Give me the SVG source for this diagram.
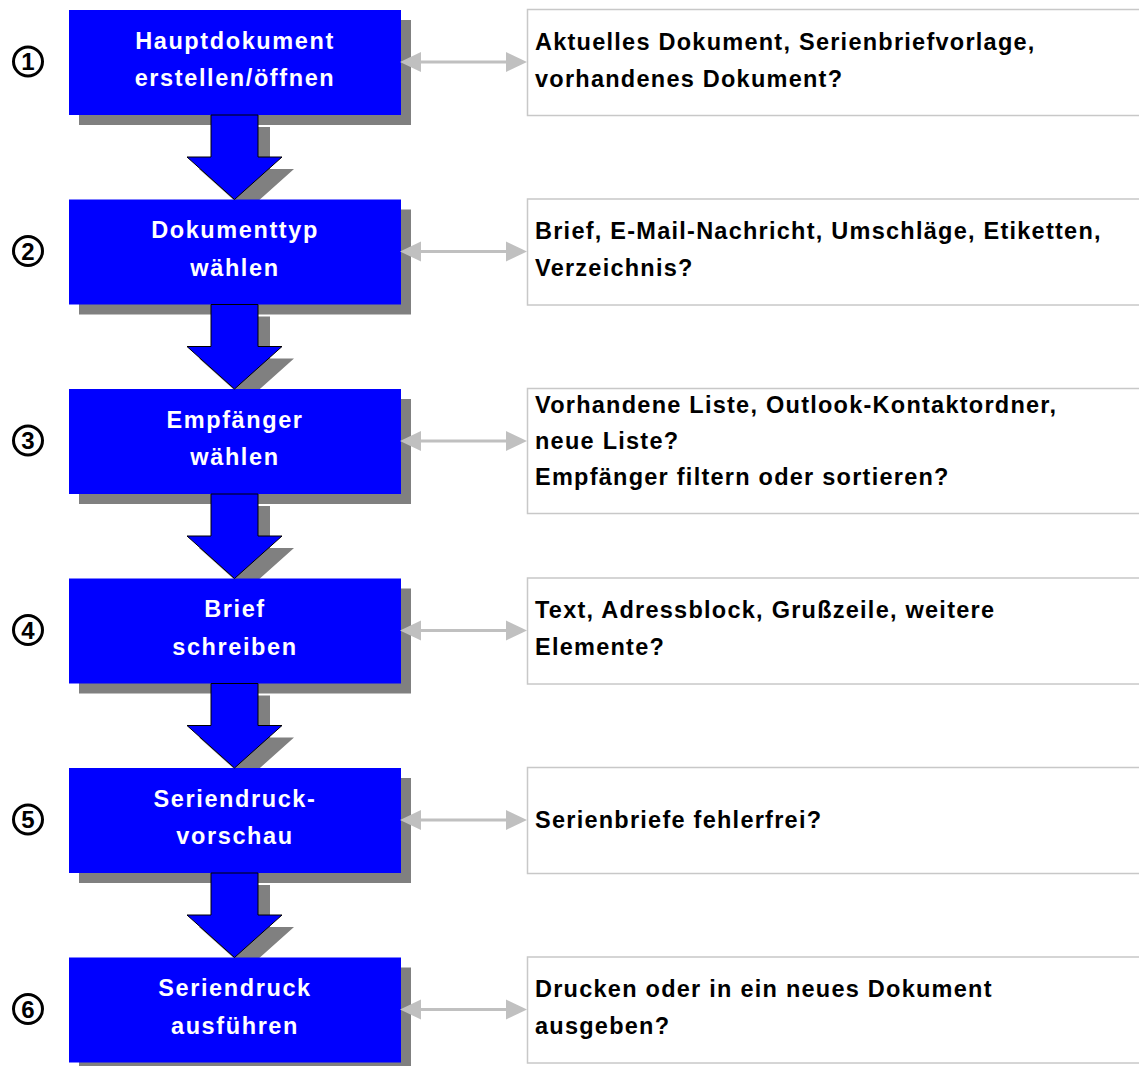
<svg xmlns="http://www.w3.org/2000/svg" width="1139" height="1066" viewBox="0 0 1139 1066">
<defs>
<style>
.sh{fill:#808080}
.bx{fill:#0000ff}
.ar{fill:#0000ff;stroke:#000;stroke-width:1}
.ash{fill:#808080}
.wt{font-family:"Liberation Sans",Arial,sans-serif;font-weight:bold;font-size:23.5px;fill:#fff;text-anchor:middle;letter-spacing:1.6px}
.rb{fill:#fff;stroke:#c8c8c8;stroke-width:1.5}
.bt{font-family:"Liberation Sans",Arial,sans-serif;font-weight:bold;font-size:23.5px;fill:#000;letter-spacing:1.25px}
.cn{fill:#fff;stroke:#000;stroke-width:3}
.ct{font-family:"Liberation Sans",Arial,sans-serif;font-weight:bold;font-size:24px;fill:#000;text-anchor:middle}
.dl{stroke:#c0c0c0;stroke-width:3;fill:none}
.dh{fill:#c0c0c0}
</style>
<g id="downArrow">
<polygon class="ar" points="211,0 258,0 258,42 282,42 234.5,84.5 187,42 211,42"/>
</g>
<g id="downShadow">
<polygon class="ash" points="223,12 270,12 270,54 294,54 246.5,96.5 199,54 223,54"/>
</g>
<g id="dbl">
<line class="dl" x1="416" y1="0" x2="511" y2="0"/>
<polygon class="dh" points="400,0 421,-10 421,10"/>
<polygon class="dh" points="527,0 506,-10 506,10"/>
</g>
</defs>

<g id="shadows">
<rect class="sh" x="79" y="20" width="332" height="105"/>
<rect class="sh" x="79" y="209.5" width="332" height="105"/>
<rect class="sh" x="79" y="399" width="332" height="105"/>
<rect class="sh" x="79" y="588.5" width="332" height="105"/>
<rect class="sh" x="79" y="778" width="332" height="105"/>
<rect class="sh" x="79" y="967.5" width="332" height="105"/>
<use href="#downShadow" y="115"/>
<use href="#downShadow" y="304.5"/>
<use href="#downShadow" y="494"/>
<use href="#downShadow" y="683.5"/>
<use href="#downShadow" y="873"/>
</g>

<g id="node1">
<rect class="bx" x="69" y="10" width="332" height="105"/>
<text class="wt" x="235" y="48.5">Hauptdokument</text>
<text class="wt" x="235" y="86">erstellen/öffnen</text>
</g>
<g id="node2">
<rect class="bx" x="69" y="199.5" width="332" height="105"/>
<text class="wt" x="235" y="238">Dokumenttyp</text>
<text class="wt" x="235" y="275.5">wählen</text>
</g>
<g id="node3">
<rect class="bx" x="69" y="389" width="332" height="105"/>
<text class="wt" x="235" y="427.5">Empfänger</text>
<text class="wt" x="235" y="465">wählen</text>
</g>
<g id="node4">
<rect class="bx" x="69" y="578.5" width="332" height="105"/>
<text class="wt" x="235" y="617">Brief</text>
<text class="wt" x="235" y="654.5">schreiben</text>
</g>
<g id="node5">
<rect class="bx" x="69" y="768" width="332" height="105"/>
<text class="wt" x="235" y="806.5">Seriendruck-</text>
<text class="wt" x="235" y="844">vorschau</text>
</g>
<g id="node6">
<rect class="bx" x="69" y="957.5" width="332" height="105"/>
<text class="wt" x="235" y="996">Seriendruck</text>
<text class="wt" x="235" y="1033.5">ausführen</text>
</g>

<g id="connectors">
<use href="#downArrow" y="115"/>
<use href="#downArrow" y="304.5"/>
<use href="#downArrow" y="494"/>
<use href="#downArrow" y="683.5"/>
<use href="#downArrow" y="873"/>
<use href="#dbl" y="62"/>
<use href="#dbl" y="251.5"/>
<use href="#dbl" y="441"/>
<use href="#dbl" y="630.5"/>
<use href="#dbl" y="820"/>
<use href="#dbl" y="1009.5"/>
</g>

<g id="num1"><circle class="cn" cx="28" cy="61.5" r="14.5"/><text class="ct" x="28" y="70">1</text></g>
<g id="num2"><circle class="cn" cx="28" cy="251" r="14.5"/><text class="ct" x="28" y="259.5">2</text></g>
<g id="num3"><circle class="cn" cx="28" cy="440.5" r="14.5"/><text class="ct" x="28" y="449">3</text></g>
<g id="num4"><circle class="cn" cx="28" cy="630" r="14.5"/><text class="ct" x="28" y="638.5">4</text></g>
<g id="num5"><circle class="cn" cx="28" cy="819.5" r="14.5"/><text class="ct" x="28" y="828">5</text></g>
<g id="num6"><circle class="cn" cx="28" cy="1009" r="14.5"/><text class="ct" x="28" y="1017.5">6</text></g>

<g id="info1">
<rect class="rb" x="527.5" y="9.5" width="620" height="106"/>
<text class="bt" x="535" y="50">Aktuelles Dokument, Serienbriefvorlage,</text>
<text class="bt" x="535" y="87">vorhandenes Dokument?</text>
</g>
<g id="info2">
<rect class="rb" x="527.5" y="199" width="620" height="106"/>
<text class="bt" x="535" y="239">Brief, E-Mail-Nachricht, Umschläge, Etiketten,</text>
<text class="bt" x="535" y="276">Verzeichnis?</text>
</g>
<g id="info3">
<rect class="rb" x="527.5" y="388.5" width="620" height="125"/>
<text class="bt" x="535" y="413">Vorhandene Liste, Outlook-Kontaktordner,</text>
<text class="bt" x="535" y="449">neue Liste?</text>
<text class="bt" x="535" y="485">Empfänger filtern oder sortieren?</text>
</g>
<g id="info4">
<rect class="rb" x="527.5" y="578" width="620" height="106"/>
<text class="bt" x="535" y="618">Text, Adressblock, Grußzeile, weitere</text>
<text class="bt" x="535" y="655">Elemente?</text>
</g>
<g id="info5">
<rect class="rb" x="527.5" y="767.5" width="620" height="106"/>
<text class="bt" x="535" y="828">Serienbriefe fehlerfrei?</text>
</g>
<g id="info6">
<rect class="rb" x="527.5" y="957" width="620" height="106"/>
<text class="bt" x="535" y="997">Drucken oder in ein neues Dokument</text>
<text class="bt" x="535" y="1034">ausgeben?</text>
</g>
</svg>
